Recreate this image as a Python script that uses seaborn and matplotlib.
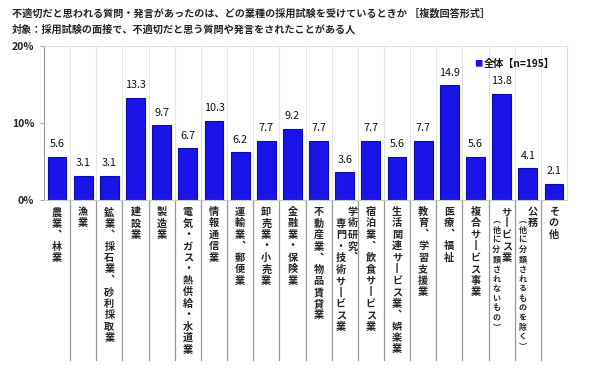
import matplotlib
matplotlib.use("Agg")
import matplotlib.pyplot as plt
import seaborn as sns
import pandas as pd

sns.set_theme(style="white")
plt.rcParams['font.family'] = ['Noto Sans CJK JP', 'DejaVu Sans']

title1 = "不適切だと思われる質問・発言があったのは、どの業種の採用試験を受けているときか ［複数回答形式］"
title2 = "対象：採用試験の面接で、不適切だと思う質問や発言をされたことがある人"
legend_label = "全体【n=195】"

categories = [
    "農業、林業", "漁業", "鉱業、採石業、砂利採取業", "建設業", "製造業",
    "電気・ガス・熱供給・水道業", "情報通信業", "運輸業、郵便業", "卸売業・小売業",
    "金融業・保険業", "不動産業、物品賃貸業", "学術研究、専門・技術サービス業",
    "宿泊業、飲食サービス業", "生活関連サービス業、娯楽業", "教育、学習支援業",
    "医療、福祉", "複合サービス事業", "サービス業（他に分類されないもの）",
    "公務（他に分類されるものを除く）", "その他",
]
values = [5.6, 3.1, 3.1, 13.3, 9.7, 6.7, 10.3, 6.2, 7.7, 9.2,
          7.7, 3.6, 7.7, 5.6, 7.7, 14.9, 5.6, 13.8, 4.1, 2.1]
y_ticks = [0, 10, 20]
y_ticklabels = ["0%", "10%", "20%"]

# (main column, secondary column, secondary is small?)
label_columns = {
    11: ("専門・技術サービス業", "学術研究、", False),
    17: ("（他に分類されないもの）", "サービス業", True),
    18: ("（他に分類されるものを除く）", "公務", True),
}

VMAP = {"、": "︑", "ー": "丨", "（": "︵", "）": "︶"}

def vert(s):
    return "\n".join(VMAP.get(c, c) for c in s)

df = pd.DataFrame({"cat": categories, "val": values})

fig = plt.figure(figsize=(6.0, 3.83), dpi=100)
ax = fig.add_axes([44/600, 1-200/383, (567-44)/600, 154/383])

bar_color = "#1a14e8"
sns.barplot(data=df, x="cat", y="val", ax=ax, color=bar_color, width=0.72,
            edgecolor="#0c0ca8", linewidth=0.8, saturation=1)

n = len(categories)
ax.set_xlim(-0.5, n - 0.5)
ax.set_ylim(0, 20)
ax.set_xlabel("")
ax.set_ylabel("")
ax.set_xticks([])
ax.set_yticks(y_ticks)
ax.set_yticklabels(y_ticklabels, fontsize=7.5, fontweight="bold")
ax.tick_params(axis="y", length=3, width=0.6, color="#999999", pad=4, left=True)

for s in ["top", "right"]:
    ax.spines[s].set_color("#dddddd")
    ax.spines[s].set_linewidth(0.8)
ax.spines["left"].set_color("#999999")
ax.spines["left"].set_linewidth(0.8)
ax.spines["bottom"].set_color("#cccccc")
ax.spines["bottom"].set_linewidth(0.8)

# vertical gridlines between categories (within plot) and separators below
for i in range(n - 1):
    xb = i + 0.5
    ax.axvline(xb, color="#e4e4e4", lw=0.8, zorder=0)
    ax.plot([xb, xb], [0, -1.04], transform=ax.get_xaxis_transform(),
            color="#999999", lw=0.9, clip_on=False)

# value labels
for i, v in enumerate(values):
    ax.text(i, v + 1.0, f"{v:.1f}", ha="center", va="bottom",
            fontsize=7.8, color="#111111")

# vertical category labels
trans = ax.get_xaxis_transform()
ytop = -0.045
LS = 1.18
for i, c in enumerate(categories):
    if i in label_columns:
        main, second, small = label_columns[i]
        if small:
            ax.text(i + 0.2, ytop, vert(second), transform=trans, ha="center", va="top",
                    fontsize=7.3, fontweight="bold", linespacing=LS)
            ax.text(i - 0.2, ytop - 0.06, vert(main), transform=trans, ha="center", va="top",
                    fontsize=5.8, fontweight="bold", linespacing=1.1)
        else:
            ax.text(i + 0.3, ytop, vert(second), transform=trans, ha="center", va="top",
                    fontsize=7.3, fontweight="bold", linespacing=LS)
            ax.text(i - 0.15, ytop - 0.078, vert(main), transform=trans, ha="center", va="top",
                    fontsize=7.3, fontweight="bold", linespacing=LS)
    else:
        ax.text(i, ytop, vert(c), transform=trans, ha="center", va="top",
                fontsize=7.3, fontweight="bold", linespacing=LS)

# legend
ax.text(0.838, 0.883, "■", transform=ax.transAxes, ha="right", va="center",
        fontsize=6, color=bar_color)
ax.text(0.840, 0.883, legend_label, transform=ax.transAxes, ha="left", va="center",
        fontsize=7.3, fontweight="bold", color="#111111")

fig.text(12/600, 1-14/383, title1, ha="left", va="center", fontsize=7.3, fontweight="bold")
fig.text(12/600, 1-30/383, title2, ha="left", va="center", fontsize=7.3, fontweight="bold")

fig.savefig("out.png", dpi=100)
